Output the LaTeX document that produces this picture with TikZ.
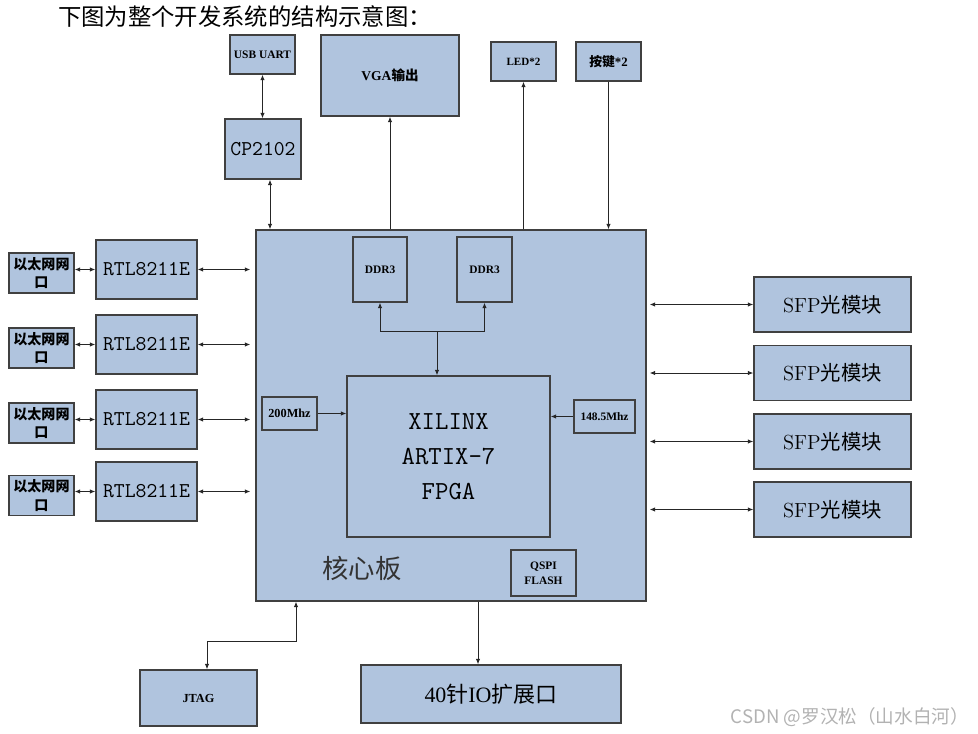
\documentclass[tikz,border=0pt]{standalone}
\usepackage{fontspec}
\newfontfamily\cjk{Noto Sans CJK SC}
\newfontfamily\lbl{Liberation Serif}
\newcommand\zh[1]{{\cjk #1}}
\usetikzlibrary{arrows.meta}
\definecolor{boardblue}{RGB}{176,196,222}
\tikzset{
	blk/.style 2 args={draw=black!75,line width=0.8pt,fill=boardblue,minimum width=#1*0.02cm,minimum height=#2*0.02cm,inner sep=0pt,align=center},
	tag/.style={font=\lbl\bfseries\linespread{1.3}\fontsize{#1}{#1}\selectfont},
	tag/.default=6.5,
	chip/.style={font=\ttfamily\fontsize{12}{14}\selectfont},
	link/.style={draw=black!85,line width=0.5pt,-{Latex[length=1.1mm,width=0.9mm]}},
	dlink/.style={draw=black!85,line width=0.5pt,{Latex[length=1.1mm,width=0.9mm]}-{Latex[length=1.1mm,width=0.9mm]}},
}
\begin{document}
\begin{tikzpicture}[x=0.02cm,y=-0.02cm]
	\useasboundingbox (0,0) rectangle (978,734);
	\node[font=\cjk\fontsize{13.3}{15}\selectfont] (title) at (245,17) {下图为整个开发系统的结构示意图：};

	\node[blk={390}{371}] (core) at (451,415.5) {};
	\node[font=\cjk\fontsize{15}{17}\selectfont,text=black!80] (corelbl) at (362,568) {核心板};
	\node[blk={54}{65},tag] (ddrA) at (380,269.5) {DDR3};
	\node[blk={55}{65},tag] (ddrB) at (484.5,269.5) {DDR3};
	\node[blk={203}{161},font=\ttfamily\fontsize{14.8}{20}\selectfont] (fpga) at (448.5,456.5) {XILINX\\ARTIX-7\\FPGA};
	\node[blk={55}{33},tag=7] (clkA) at (289.5,413.5) {200Mhz};
	\node[blk={61}{33},tag] (clkB) at (604.5,416.5) {148.5Mhz};
	\node[blk={65}{46},tag] (flash) at (543.5,573) {QSPI\\FLASH};

	\node[blk={65}{39},tag] (usb) at (262.5,54.5) {USB UART};
	\node[blk={138}{81},tag=7.7] (vga) at (390,75.5) {VGA\zh{输出}};
	\node[blk={65}{39},tag=6.3] (led) at (523.5,61.5) {LED*2};
	\node[blk={65}{39},tag=7.3] (key) at (608.5,61.5) {\zh{按键}*2};
	\node[blk={76}{60},chip] (cp) at (263,149) {CP2102};

	\node[blk={65}{40},tag=8] (eth1) at (41.5,273) {\zh{以太网网}\\\zh{口}};
	\node[blk={65}{40},tag=8] (eth2) at (41.5,348) {\zh{以太网网}\\\zh{口}};
	\node[blk={65}{40},tag=8] (eth3) at (41.5,423) {\zh{以太网网}\\\zh{口}};
	\node[blk={65}{40},tag=8] (eth4) at (41.5,495.5) {\zh{以太网网}\\\zh{口}};
	\node[blk={101}{59},chip] (rtl1) at (146.5,269.5) {RTL8211E};
	\node[blk={101}{59},chip] (rtl2) at (146.5,344.5) {RTL8211E};
	\node[blk={101}{59},chip] (rtl3) at (146.5,419.5) {RTL8211E};
	\node[blk={101}{59},chip] (rtl4) at (146.5,491.5) {RTL8211E};

	\node[blk={157}{55},font=\fontsize{11.6}{14}\selectfont] (sfp1) at (832.5,304.5) {SFP\zh{光模块}};
	\node[blk={157}{55},font=\fontsize{11.6}{14}\selectfont] (sfp2) at (832.5,373) {SFP\zh{光模块}};
	\node[blk={157}{55},font=\fontsize{11.6}{14}\selectfont] (sfp3) at (832.5,441.5) {SFP\zh{光模块}};
	\node[blk={157}{55},font=\fontsize{11.6}{14}\selectfont] (sfp4) at (832.5,509.5) {SFP\zh{光模块}};

	\node[blk={117}{56},tag=7] (jtag) at (198.5,698) {JTAG};
	\node[blk={260}{58},font=\lbl\fontsize{12.5}{14}\selectfont] (io) at (491,694) {40\zh{针}IO\zh{扩展口}};

	\node[font=\cjk\fontsize{10.6}{12}\selectfont,text=black!30] (mark) at (850,717) {CSDN @罗汉松（山水白河）};

	\draw[dlink] (usb.south) -- (usb.south |- cp.north);
	\coordinate (cptap) at ([xshift=0.14cm]cp.south);
	\draw[dlink] (cptap) -- (cptap |- core.north);
	\draw[link] (core.north -| vga.south) -- (vga.south);
	\draw[link] (core.north -| led.south) -- (led.south);
	\draw[link] (key.south) -- (key.south |- core.north);

	\draw[dlink] (eth1.east |- rtl1.west) -- (rtl1.west);
	\draw[dlink] (eth2.east |- rtl2.west) -- (rtl2.west);
	\draw[dlink] (eth3.east |- rtl3.west) -- (rtl3.west);
	\draw[dlink] (eth4.east |- rtl4.west) -- (rtl4.west);
	\draw[dlink,shorten >=0.1cm] (rtl1.east) -- (rtl1.east -| core.west);
	\draw[dlink,shorten >=0.1cm] (rtl2.east) -- (rtl2.east -| core.west);
	\draw[dlink,shorten >=0.1cm] (rtl3.east) -- (rtl3.east -| core.west);
	\draw[dlink,shorten >=0.1cm] (rtl4.east) -- (rtl4.east -| core.west);

	\draw[dlink,shorten <=0.06cm] (sfp1.west -| core.east) -- (sfp1.west);
	\draw[dlink,shorten <=0.06cm] (sfp2.west -| core.east) -- (sfp2.west);
	\draw[dlink,shorten <=0.06cm] (sfp3.west -| core.east) -- (sfp3.west);
	\draw[dlink,shorten <=0.06cm] (sfp4.west -| core.east) -- (sfp4.west);

	\coordinate (ddrjoin) at (437,331);
	\draw[link] (ddrjoin) -- (ddrjoin |- fpga.north);
	\draw[link] (ddrjoin) -| (ddrA.south);
	\draw[link] (ddrjoin) -| (ddrB.south);
	\draw[link] (clkA.east) -- (clkA.east -| fpga.west);
	\draw[link] (clkB.west) -- (clkB.west -| fpga.east);

	\coordinate (jtagbend) at (296,641);
	\coordinate (jtagtap) at ([xshift=0.17cm]jtag.north);
	\draw[dlink] (core.south -| jtagbend) -- (jtagbend) -| (jtagtap);
	\coordinate (iotap) at ([xshift=-0.26cm]io.north);
	\draw[link] (core.south -| iotap) -- (iotap);
\end{tikzpicture}
\end{document}
